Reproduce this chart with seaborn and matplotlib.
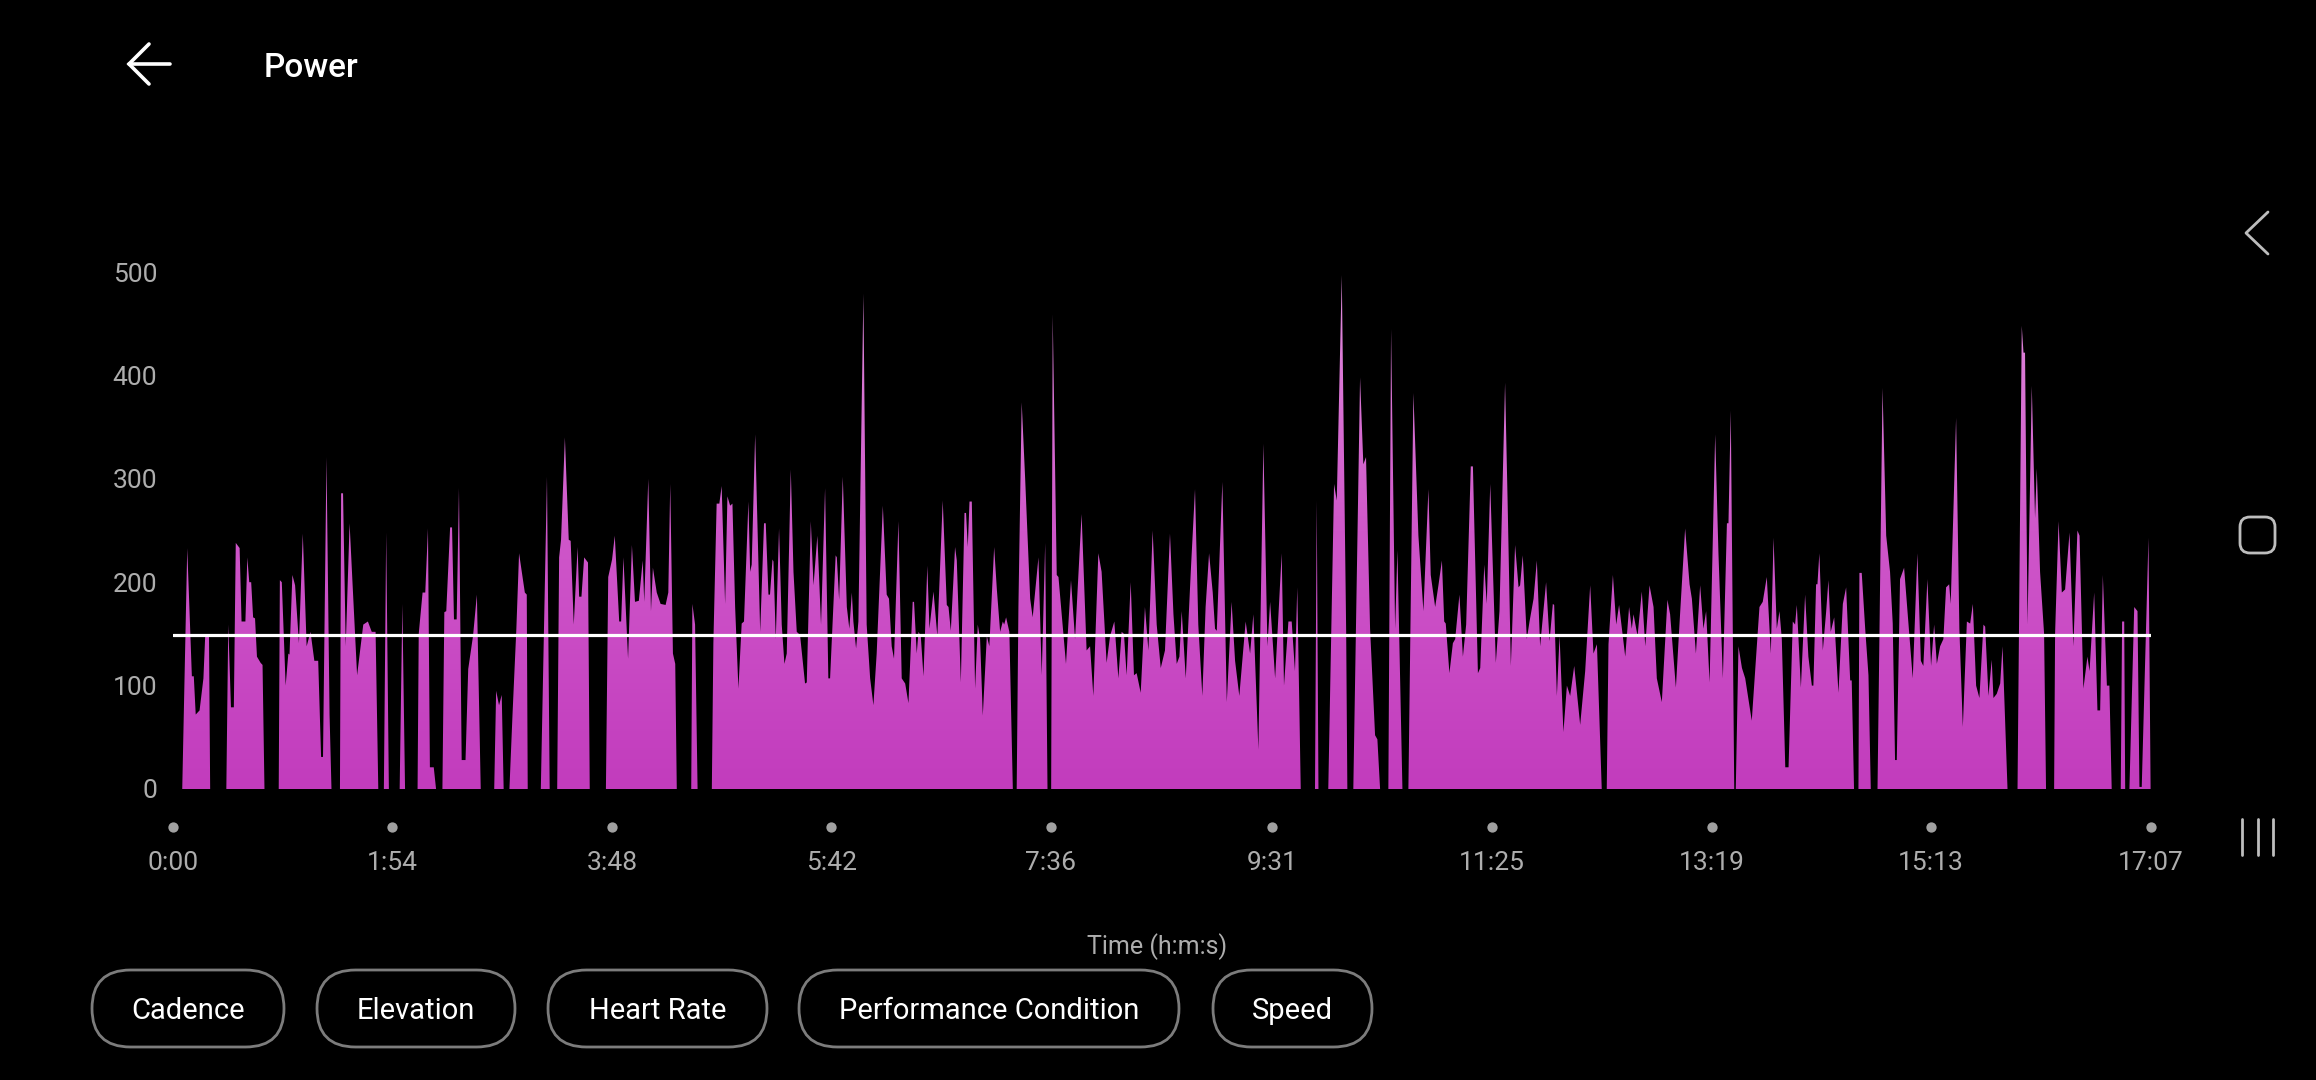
import numpy as np
import pandas as pd
import seaborn as sns
import matplotlib.pyplot as plt
from matplotlib.colors import LinearSegmentedColormap
from matplotlib.patches import FancyBboxPatch

# ---------------------------------------
# Data : power samples (seconds, watts)
# ---------------------------------------
time_s = [
    0, 4.9, 7.5, 9.9, 10.9, 11.9, 12.9, 13.9, 15.9, 16.8, 18.8, 19.4,
    27.8, 28.8, 30.2, 31.7, 32.7, 34.7, 35.7, 37.7, 38.7, 39.7, 40.7, 41.7, 42.7, 43.7, 45.6, 46.6, 47.6,
    55.0, 55.6, 56.6, 58.6, 60.0, 60.6, 62.1, 63.5, 65.5, 67.5, 69.5, 71.5, 73.5, 75.5, 77.0, 78.0, 79.8, 81.4, 82.4,
    86.8, 87.4, 88.4, 89.8, 91.8, 93.3, 95.7, 98.9, 101.3, 103.3, 105.3, 106.7,
    109.6, 110.8, 112.2, 117.8, 119.2, 120.6,
    127.1, 127.7, 129.7, 131.1, 132.5, 133.5, 135.5, 136.7,
    140.0, 141.0, 142.0, 144.0, 145.0, 146.0, 147.4, 148.6, 150.0, 152.0, 153.4, 155.9, 157.9, 159.9,
    166.9, 167.9, 169.4, 170.8, 171.8, 174.8, 176.4, 178.4, 179.8, 182.8, 183.8, 184.3,
    191.1, 194.3, 195.7,
    199.6, 200.6, 201.6, 203.6, 205.6, 206.6, 208.2, 210.2, 211.0, 212.2, 213.6, 215.6, 216.5,
    224.9, 226.1, 228.1, 229.5, 231.8, 232.8, 234.0, 236.4, 238.4, 240.0, 242.0, 244.0, 244.8, 246.9,
    248.3, 249.3, 251.3, 253.3, 255.9, 257.3, 258.3, 259.7, 260.9, 261.7,
    269.2, 269.8, 271.2, 272.5,
    279.9, 280.7, 282.4, 283.8, 285.0, 286.8, 288.0, 289.4, 290.6, 292.0,
    293.7, 295.4, 296.6, 298.9, 299.8, 300.6, 302.4, 305.0, 307.0, 307.9,
    309.3, 310.1, 311.4, 311.9, 313.1, 314.8, 316.2, 317.6, 318.8, 320.9,
    322.3, 324.0, 325.7, 328.3, 329.2, 331.3, 332.7, 334.7, 336.6, 338.7,
    340.4, 341.3, 344.2, 344.8, 346.0, 347.9, 350.0, 351.3, 352.6, 353.4,
    354.8, 356.0, 358.6, 360.3, 362.1, 363.8, 365.5, 368.7, 370.7, 371.9,
    373.3, 374.5, 376.8, 378.5, 380.3, 382.0, 384.2, 384.9, 386.3, 387.2,
    388.4, 389.8, 391.8, 392.9, 395.0, 397.0, 399.8, 401.9, 402.8, 404.0,
    406.2, 407.1, 409.2, 411.1, 411.9, 412.8, 413.7, 414.9, 416.6, 418.0,
    419.2, 420.6, 422.7, 424.0, 426.5, 427.9, 429.6, 431.0, 431.7, 432.7,
    434.4, 436.2,
    438.2, 439.1, 440.8, 442.6, 445.2, 446.5, 449.5, 451.2, 453.0, 454.2,
    456.1, 456.9, 459.0, 459.9, 463.8, 466.4, 468.5, 471.9, 474.5, 476.3,
    478.0, 480.6, 482.3, 484.9, 486.7, 488.9, 491.0, 492.7, 493.9, 495.3,
    497.4, 499.1, 500.5, 502.6, 504.8, 506.6, 508.8, 510.9, 513.0, 515.2,
    517.8, 519.6, 521.3, 522.7, 523.9, 526.0, 528.7, 530.8, 532.5, 534.6,
    536.3, 538.1, 540.0, 541.2, 542.1, 545.0, 547.3, 549.8, 551.6, 553.8,
    557.1, 559.4, 561.1, 563.7, 566.3, 568.4, 569.8, 572.4, 575.8, 577.0,
    579.3, 581.0, 582.7, 583.9, 585.7,
    593.1, 594.0, 594.9, 600.0, 603.0, 604.4, 607.0, 609.3, 609.9,
    613.0, 616.5, 618.2, 619.6, 621.7, 624.3, 625.5, 626.9,
    631.2, 632.6, 634.7, 635.9, 638.5,
    641.6, 644.2, 646.8, 649.4, 652.0, 653.2, 655.5, 657.2, 659.0, 660.2,
    661.0, 662.9, 664.7, 665.9, 668.1, 669.9, 671.6, 674.0, 675.1, 677.7,
    678.9, 681.0, 682.3, 684.1, 687.0, 688.9, 691.8, 693.1, 694.8, 697.0,
    698.8, 699.6, 701.0, 703.1, 704.5, 706.6, 708.3, 710.0, 713.1, 714.9,
    716.6, 717.3, 718.7, 720.1, 722.1, 723.9, 725.6, 727.7, 730.8, 733.4,
    736.0, 737.7, 739.5, 742.0,
    744.6, 745.5, 747.8, 749.5, 751.0, 754.2, 756.2, 757.6, 758.5, 760.6,
    762.8, 764.6, 766.8, 768.9, 770.6, 773.2, 776.1, 777.5, 780.5, 782.7,
    785.3, 787.6, 788.8, 790.9, 793.1, 794.8, 796.2, 798.0, 800.9, 802.6,
    804.9, 807.0, 807.8, 809.0, 810.8,
    811.6, 813.0, 814.8, 816.5, 819.9, 823.9, 825.6, 827.7, 829.8, 831.2,
    832.9, 834.3, 835.5, 837.3, 839.0, 841.2, 842.4, 843.3, 845.4, 847.6,
    849.3, 851.1, 851.9, 853.3, 854.0, 855.0, 856.8, 858.5, 859.7, 860.9,
    862.7, 864.9, 867.2, 868.9, 871.0, 871.8, 873.0,
    875.3, 875.8, 877.0, 878.8, 880.5, 881.7,
    885.2, 887.8, 889.7, 891.7, 893.1, 894.3, 895.2, 896.9, 899.0, 901.3,
    903.5, 905.9, 907.7, 909.0, 911.1, 913.0, 914.6, 916.0, 917.7, 919.4,
    920.8, 922.4, 923.2, 926.0, 927.7, 929.5, 931.6, 933.3, 934.7, 936.4,
    938.1, 940.2, 941.1, 942.8, 944.5, 945.4, 947.1, 948.9, 950.1, 952.7,
    957.9, 960.1, 961.0, 961.8, 963.1, 965.3, 967.0, 967.9, 969.6, 971.7, 972.7,
    976.9, 977.4, 979.2, 980.9, 982.6, 984.9, 986.9, 989.0, 990.1, 992.1,
    994.2, 995.3, 997.7, 999.4, 1000.8, 1002.2, 1004.3, 1005.6, 1006.8,
    1011.5, 1012.2, 1013.3, 1013.8, 1016.0, 1018.5, 1020.2, 1021.2, 1022.4, 1025.9, 1027.0,
]
power_w = [
    0, 0, 233, 109, 109, 72, 74, 76, 107, 147, 147, 0,
    0, 159, 79, 79, 238, 233, 162, 162, 224, 200, 200, 166, 165, 128, 122, 120, 0,
    0, 202, 200, 100, 131, 130, 207, 197, 141, 247, 138, 152, 124, 124, 31, 31, 321, 72, 0,
    0, 286, 286, 138, 257, 200, 110, 159, 162, 152, 152, 0,
    0, 248, 0, 0, 179, 0,
    0, 150, 190, 190, 252, 21, 21, 0,
    0, 171, 172, 253, 253, 164, 164, 291, 28, 28, 116, 148, 188, 0,
    0, 95, 81, 91, 0, 0, 72, 155, 228, 190, 188, 0,
    0, 302, 0,
    0, 224, 241, 340, 241, 240, 159, 234, 186, 186, 224, 219, 0,
    0, 205, 222, 245, 162, 162, 224, 126, 236, 181, 182, 221, 181, 300,
    172, 214, 190, 179, 178, 190, 295, 131, 121, 0,
    0, 179, 159, 0,
    0, 141, 276, 276, 293, 179, 283, 274, 276, 176,
    97, 160, 162, 278, 210, 217, 343, 152, 257, 257,
    188, 188, 222, 220, 145, 252, 159, 121, 131, 309,
    210, 152, 149, 102, 103, 259, 197, 245, 159, 291,
    107, 107, 226, 224, 183, 302, 176, 155, 190, 162,
    136, 162, 479, 159, 107, 81, 131, 274, 188, 184,
    138, 126, 259, 107, 102, 83, 181, 181, 131, 152,
    148, 109, 216, 155, 191, 148, 279, 178, 176, 153,
    234, 221, 103, 267, 267, 234, 278, 278, 97, 159,
    145, 71, 148, 138, 234, 193, 152, 162, 159, 166,
    152, 0,
    0, 176, 374, 300, 184, 166, 224, 110, 238, 0,
    0, 459, 207, 205, 121, 202, 145, 266, 134, 138,
    90, 228, 210, 122, 148, 162, 107, 152, 150, 110,
    200, 110, 112, 93, 176, 134, 250, 159, 117, 134,
    247, 169, 121, 128, 172, 107, 214, 290, 159, 90,
    176, 228, 190, 155, 153, 297, 84, 181, 124, 90,
    162, 131, 169, 38, 334, 138, 181, 107, 228, 100,
    162, 162, 114, 195, 0,
    0, 279, 0, 0, 295, 279, 497, 150, 0,
    0, 398, 314, 321, 155, 52, 48, 0,
    0, 445, 155, 231, 0,
    0, 383, 245, 172, 290, 207, 176, 197, 221, 162,
    160, 112, 141, 145, 188, 128, 159, 312, 312, 112,
    117, 217, 179, 295, 122, 172, 393, 280, 119, 236,
    195, 197, 226, 145, 162, 184, 221, 138, 200, 143,
    179, 178, 90, 148, 55, 100, 90, 119, 62, 114,
    197, 131, 140, 0,
    0, 140, 207, 159, 178, 128, 176, 155, 169, 148,
    191, 138, 197, 176, 107, 84, 183, 169, 98, 170,
    252, 198, 184, 131, 197, 155, 172, 103, 343, 228,
    107, 257, 257, 366, 0,
    0, 138, 117, 107, 66, 176, 181, 205, 131, 243,
    155, 172, 145, 21, 21, 162, 159, 178, 98, 188,
    128, 100, 100, 198, 198, 228, 134, 171, 202, 152,
    166, 93, 179, 195, 105, 105, 0,
    0, 209, 209, 155, 110, 0,
    0, 388, 245, 210, 160, 28, 28, 203, 214, 159,
    107, 228, 124, 119, 203, 119, 159, 121, 138, 145,
    195, 198, 179, 359, 155, 60, 162, 160, 179, 100,
    88, 159, 157, 90, 125, 88, 92, 102, 138, 0,
    0, 448, 422, 422, 159, 390, 262, 310, 210, 150, 0,
    0, 150, 259, 190, 193, 248, 138, 250, 245, 97,
    128, 114, 190, 76, 76, 207, 100, 100, 0,
    0, 162, 162, 0, 0, 176, 172, 2, 2, 243, 0,
]
avg_power = 149

tick_times = [0, 114, 228, 342, 456, 571, 685, 799, 913, 1027]
tick_labels = ['0:00', '1:54', '3:48', '5:42', '7:36', '9:31', '11:25', '13:19', '15:13', '17:07']
y_ticks = [0, 100, 200, 300, 400, 500]
buttons = ['Cadence', 'Elevation', 'Heart Rate', 'Performance Condition', 'Speed']

df = pd.DataFrame({'time': time_s, 'power': power_w})

# ---------------------------------------
# Style / layout (pixels of a 2316x1080 screen)
# ---------------------------------------
sns.set_theme(style='dark')
plt.rcParams['font.family'] = ['Roboto', 'DejaVu Sans']

W, H = 2316, 1080
x_left, x_right = 172.8, 2150.6     # 0:00 and 17:07
y_zero, y_top = 789, 272            # 0 W and 500 W
grey = '#adadad'

fig = plt.figure(figsize=(W / 100, H / 100), dpi=100, facecolor='black')
ax = fig.add_axes([x_left / W, 1 - y_zero / H, (x_right - x_left) / W, (y_zero - y_top) / H])
ax.set_facecolor('black')

# area with vertical pink gradient
area = ax.fill_between(df['time'], df['power'], 0, facecolor='none', linewidth=0)
cmap = LinearSegmentedColormap.from_list('power', ['#c23cbd', '#cf57ca', '#e18edd'])
grad = np.linspace(0, 1, 256).reshape(-1, 1)
img = ax.imshow(grad, extent=[0, 1027, 0, 500], origin='lower', aspect='auto',
                cmap=cmap, zorder=2, interpolation='bilinear')
img.set_clip_path(area.get_paths()[0], transform=ax.transData)

# average line
sns.lineplot(x=[df['time'].min(), df['time'].max()], y=[avg_power, avg_power],
             color='white', linewidth=2.3, ax=ax, zorder=3)

ax.set_xlim(0, 1027)
ax.set_ylim(0, 500)
for s in ax.spines.values():
    s.set_visible(False)
ax.grid(False)

ax.set_yticks(y_ticks)
ax.set_yticklabels([str(v) for v in y_ticks])
ax.set_xticks(tick_times)
ax.set_xticklabels(tick_labels)
ax.tick_params(axis='y', length=0, pad=11.3, labelsize=19, labelcolor=grey)
ax.tick_params(axis='x', length=0, pad=58, labelsize=19, labelcolor=grey)
for lbl in ax.get_xticklabels():
    lbl.set_verticalalignment('baseline')

dot_y = -(827 - y_zero) * 500 / (y_zero - y_top)
ax.scatter(tick_times, [dot_y] * len(tick_times), s=55, color='#a0a0a0',
           clip_on=False, linewidths=0, zorder=4)

# ---------------------------------------
# Screen chrome drawn in pixel units
# ---------------------------------------
ui = fig.add_axes([0, 0, 1, 1], zorder=5)
ui.set_xlim(0, W)
ui.set_ylim(H, 0)
ui.axis('off')
ui.patch.set_alpha(0)

# back arrow + title
ui.plot([129, 170], [64, 64], color='white', lw=2.6, solid_capstyle='round')
ui.plot([149, 129, 149], [44, 64, 84], color='white', lw=2.6,
        solid_capstyle='round', solid_joinstyle='miter')
ui.text(264, 77, 'Power', color='white', fontsize=24, fontweight='medium',
        ha='left', va='baseline')

# navigation bar on the right
nav = '#bdbdbd'
ui.plot([2268, 2246, 2268], [212, 233, 254], color=nav, lw=2.0, solid_capstyle='round')
ui.add_patch(FancyBboxPatch((2240, 517), 35, 36, boxstyle='round,pad=0,rounding_size=10',
                            fill=False, edgecolor=nav, lw=2.0))
for bx in [2242, 2257.5, 2273]:
    ui.plot([bx, bx], [819, 855], color=nav, lw=2.0, solid_capstyle='round')

# axis title
ui.text(1157, 947, 'Time (h:m:s)', color=grey, fontsize=18, ha='center', va='center')

# pill buttons
button_x = [(92, 284), (317, 515), (548, 767), (799, 1179), (1213, 1372)]
for name, (bx0, bx1) in zip(buttons, button_x):
    ui.add_patch(FancyBboxPatch((bx0, 970), bx1 - bx0, 77,
                                boxstyle='round,pad=0,rounding_size=38.5',
                                facecolor='black', edgecolor='#7c7c7c', lw=2.0))
    ui.text((bx0 + bx1) / 2, 1019, name, color='white', fontsize=21,
            ha='center', va='baseline')

fig.savefig('out.png', dpi=100, facecolor='black')
